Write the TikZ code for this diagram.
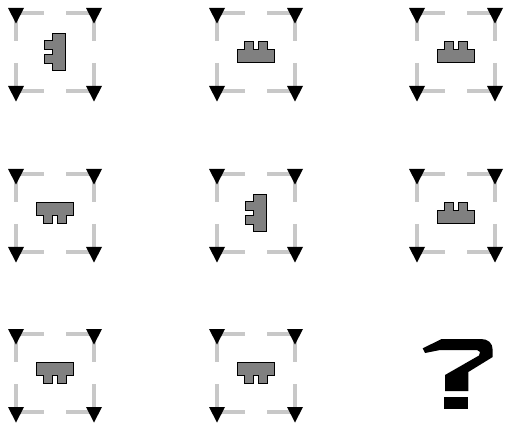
\documentclass[tikz,border=0pt]{standalone}
\definecolor{dashgray}{RGB}{200,200,200}
\definecolor{brickgray}{RGB}{128,128,128}
\tikzset{
  dashline/.style={draw=dashgray, line width=4pt},
  cornertri/.style={fill=black},
  brickshape/.style={fill=brickgray, draw=black, line width=1.3pt, line join=miter},
  qmark/.style={fill=black},
  pics/panel/.style={code={
    \draw[dashline] (-39,-39) -- (-11,-39) (11,-39) -- (39,-39)
                    (-39,39) -- (-11,39) (11,39) -- (39,39)
                    (-39,-39) -- (-39,-11) (-39,11) -- (-39,39)
                    (39,-39) -- (39,-11) (39,11) -- (39,39);
    \foreach \cx/\cy in {-39/-39,39/-39,-39/39,39/39}{
      \fill[cornertri] (\cx-8,\cy-5) -- (\cx+8,\cy-5) -- (\cx,\cy+10.5) -- cycle;
    }
  }},
  pics/brick/.style={code={
    \draw[brickshape] (-18.5,10.75) -- (-18.5,-2.25) -- (-11.2,-2.25) -- (-11.2,-10.75)
      -- (-2.3,-10.75) -- (-2.3,-2.25) -- (2.3,-2.25) -- (2.3,-10.75) -- (11.2,-10.75)
      -- (11.2,-2.25) -- (18.5,-2.25) -- (18.5,10.75) -- cycle;
  }}
}
\begin{document}
\begin{tikzpicture}[x=1pt,y=-1pt]
\useasboundingbox (0,0) rectangle (508,427);
% panel centres
\coordinate (p1) at (55,52);
\coordinate (p2) at (256,52);
\coordinate (p3) at (456,52);
\coordinate (p4) at (55,213);
\coordinate (p5) at (256,213);
\coordinate (p6) at (456,213);
\coordinate (p7) at (55,373);
\coordinate (p8) at (256,373);
\foreach \p in {p1,p2,p3,p4,p5,p6,p7,p8}{\pic at (\p) {panel};}
\pic[rotate=90] at (p1) {brick};
\pic at (p2) {brick};
\pic at (p3) {brick};
\pic[rotate=180] at (p4) {brick};
\pic[rotate=90] at (p5) {brick};
\pic at (p6) {brick};
\pic[rotate=180] at (p7) {brick};
\pic[rotate=180] at (p8) {brick};
% question mark
\fill[qmark] (422.7,348.3) -- (441.7,339) -- (481,339)
  .. controls (488,339) and (492.7,343) .. (492.7,350)
  -- (492.7,357) -- (468.3,372) -- (468.3,391) -- (445,391) -- (445,375)
  -- (479,355.5) -- (480,352) -- (477,350) -- (440,350) -- (425,353) -- cycle;
\fill[qmark] (444.3,396.7) rectangle (468.3,409);
\end{tikzpicture}
\end{document}
